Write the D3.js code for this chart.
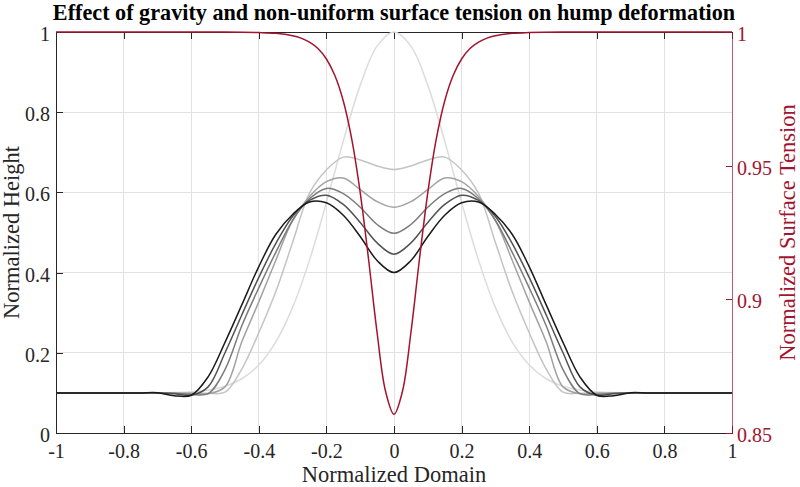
<!DOCTYPE html>
<html>
<head>
<meta charset="utf-8">
<script src="https://cdn.jsdelivr.net/npm/d3@7"></script>
<style>
  body { margin: 0; background: #fff; }
</style>
</head>
<body>
<div id="chart"></div>
<script>
// Sample positions along the normalized domain
let domainX = [-1, -0.95, -0.9, -0.85, -0.8, -0.75, -0.7, -0.65, -0.6, -0.55, -0.5,
  -0.45, -0.4, -0.35, -0.3, -0.25, -0.2, -0.15, -0.1, -0.05, 0,
  0.05, 0.1, 0.15, 0.2, 0.25, 0.3, 0.35, 0.4, 0.45, 0.5,
  0.55, 0.6, 0.65, 0.7, 0.75, 0.8, 0.85, 0.9, 0.95, 1];

// Hump height profiles, from the initial shape (h0) to the last one (h5)
let h0 = [0.1, 0.1, 0.1, 0.1, 0.1, 0.1001, 0.1004, 0.101, 0.1028, 0.1071, 0.1165,
  0.1353, 0.1696, 0.2268, 0.3132, 0.4311, 0.5746, 0.7279, 0.8669, 0.9647, 1,
  0.9647, 0.8669, 0.7279, 0.5746, 0.4311, 0.3132, 0.2268, 0.1696, 0.1353, 0.1165,
  0.1071, 0.1028, 0.101, 0.1004, 0.1001, 0.1, 0.1, 0.1, 0.1, 0.1];
let h1 = [0.1, 0.1, 0.1, 0.1, 0.1, 0.1, 0.1, 0.1, 0.1, 0.099, 0.102,
  0.16, 0.25, 0.352, 0.475, 0.598, 0.656, 0.688, 0.681, 0.666, 0.657,
  0.666, 0.681, 0.688, 0.656, 0.598, 0.475, 0.352, 0.25, 0.16, 0.102,
  0.099, 0.1, 0.1, 0.1, 0.1, 0.1, 0.1, 0.1, 0.1, 0.1];
let h2 = [0.1, 0.1, 0.1, 0.1, 0.1, 0.1, 0.1, 0.1, 0.099, 0.098, 0.115,
  0.228, 0.327, 0.43, 0.53, 0.59, 0.627, 0.636, 0.607, 0.577, 0.563,
  0.577, 0.607, 0.636, 0.627, 0.59, 0.53, 0.43, 0.327, 0.228, 0.115,
  0.098, 0.099, 0.1, 0.1, 0.1, 0.1, 0.1, 0.1, 0.1, 0.1];
let h3 = [0.1, 0.1, 0.1, 0.1, 0.1, 0.1, 0.1, 0.099, 0.096, 0.098, 0.158,
  0.268, 0.362, 0.45, 0.53, 0.584, 0.61, 0.597, 0.563, 0.52, 0.498,
  0.52, 0.563, 0.597, 0.61, 0.584, 0.53, 0.45, 0.362, 0.268, 0.158,
  0.098, 0.096, 0.099, 0.1, 0.1, 0.1, 0.1, 0.1, 0.1, 0.1];
let h4 = [0.1, 0.1, 0.1, 0.1, 0.1, 0.1, 0.1, 0.098, 0.094, 0.115, 0.2,
  0.295, 0.388, 0.472, 0.54, 0.58, 0.593, 0.57, 0.525, 0.474, 0.446,
  0.474, 0.525, 0.57, 0.593, 0.58, 0.54, 0.472, 0.388, 0.295, 0.2,
  0.115, 0.094, 0.098, 0.1, 0.1, 0.1, 0.1, 0.1, 0.1, 0.1];
let h5 = [0.1, 0.1, 0.1, 0.1, 0.1, 0.1, 0.1005, 0.093, 0.094, 0.14, 0.226,
  0.32, 0.415, 0.495, 0.545, 0.576, 0.574, 0.543, 0.49, 0.43, 0.4,
  0.43, 0.49, 0.543, 0.574, 0.576, 0.545, 0.495, 0.415, 0.32, 0.226,
  0.14, 0.094, 0.093, 0.1005, 0.1, 0.1, 0.1, 0.1, 0.1, 0.1];

// Surface tension profile (right axis)
let tensionX = [-1, -0.8, -0.6, -0.5, -0.4, -0.35, -0.3, -0.275, -0.25, -0.225, -0.2,
  -0.175, -0.15, -0.125, -0.1, -0.075, -0.05, -0.025, 0,
  0.025, 0.05, 0.075, 0.1, 0.125, 0.15, 0.175, 0.2, 0.225, 0.25,
  0.275, 0.3, 0.35, 0.4, 0.5, 0.6, 0.8, 1];
let tensionY = [1, 1, 1, 1, 0.9998, 0.9995, 0.9986, 0.9977, 0.9962, 0.9938, 0.9899,
  0.9837, 0.9742, 0.9599, 0.9399, 0.9147, 0.8875, 0.8656, 0.857,
  0.8656, 0.8875, 0.9147, 0.9399, 0.9599, 0.9742, 0.9837, 0.9899, 0.9938, 0.9962,
  0.9977, 0.9986, 0.9995, 0.9998, 1, 1, 1, 1];

// Tick values and labels
let xTicks = [-1, -0.8, -0.6, -0.4, -0.2, 0, 0.2, 0.4, 0.6, 0.8, 1];
let xTickLabels = ["-1", "-0.8", "-0.6", "-0.4", "-0.2", "0", "0.2", "0.4", "0.6", "0.8", "1"];
let yTicks = [0, 0.2, 0.4, 0.6, 0.8, 1];
let yTickLabels = ["0", "0.2", "0.4", "0.6", "0.8", "1"];
let y2Ticks = [0.85, 0.9, 0.95, 1];
let y2TickLabels = ["0.85", "0.9", "0.95", "1"];

// svg attributes
let svgWidth = 800;
let svgHeight = 487;
let margin = {top: 32, right: 68, bottom: 54, left: 56};
let font = "'Liberation Serif', 'Times New Roman', serif";
let axisColor = "#262626";
let red = "#A2142F";
let grays = ["#dcdcdc", "#c4c4c4", "#a2a2a2", "#7c7c7c", "#525252", "#1a1a1a"];

let svg = d3.select("#chart")
  .append("svg")
  .attr("width", svgWidth)
  .attr("height", svgHeight);

let xScale = d3.scaleLinear()
  .domain([-1, 1])
  .range([margin.left, svgWidth - margin.right]);

let yScale = d3.scaleLinear()
  .domain([0, 1])
  .range([svgHeight - margin.bottom, margin.top]);

let y2Scale = d3.scaleLinear()
  .domain([0.85, 1])
  .range([svgHeight - margin.bottom, margin.top]);

// grid lines
let grid = svg.append("g")
  .attr("stroke", "#e2e2e2")
  .attr("stroke-width", 1)
  .attr("shape-rendering", "crispEdges");

grid.selectAll(".gx")
  .data(xTicks.slice(1, -1))
  .enter()
  .append("line")
  .attr("x1", d => xScale(d))
  .attr("x2", d => xScale(d))
  .attr("y1", yScale(0))
  .attr("y2", yScale(1));

grid.selectAll(".gy")
  .data(yTicks.slice(1, -1))
  .enter()
  .append("line")
  .attr("x1", xScale(-1))
  .attr("x2", xScale(1))
  .attr("y1", d => yScale(d))
  .attr("y2", d => yScale(d));

// style helper for the axes
function styleAxis(g, color) {
  g.attr("font-family", font)
    .attr("font-size", 20)
    .attr("shape-rendering", "crispEdges");
  g.selectAll("path, line").attr("stroke", color);
  g.selectAll("text").attr("fill", color);
}

svg.append("g")
  .attr("transform", `translate(0,${yScale(0)})`)
  .call(d3.axisBottom(xScale).tickValues(xTicks).tickFormat((d, i) => xTickLabels[i])
    .tickSizeInner(-7).tickSizeOuter(0).tickPadding(11))
  .call(g => styleAxis(g, axisColor));

svg.append("g")
  .attr("transform", `translate(0,${yScale(1)})`)
  .call(d3.axisTop(xScale).tickValues(xTicks).tickFormat("")
    .tickSizeInner(-7).tickSizeOuter(0))
  .call(g => styleAxis(g, axisColor));

svg.append("g")
  .attr("transform", `translate(${xScale(-1)},0)`)
  .call(d3.axisLeft(yScale).tickValues(yTicks).tickFormat((d, i) => yTickLabels[i])
    .tickSizeInner(-7).tickSizeOuter(0).tickPadding(6))
  .call(g => styleAxis(g, axisColor))
  .selectAll("text").attr("dy", "0.42em");

svg.append("g")
  .attr("transform", `translate(${xScale(1)},0)`)
  .call(d3.axisRight(y2Scale).tickValues(y2Ticks).tickFormat((d, i) => y2TickLabels[i])
    .tickSizeInner(-6).tickSizeOuter(0).tickPadding(5))
  .call(g => styleAxis(g, red))
  .call(g => g.select(".domain").attr("stroke-opacity", 0.7))
  .selectAll("text").attr("dy", "0.42em");

// hump profiles
let profileLine = d3.line()
  .x((d, i) => xScale(domainX[i]))
  .y(d => yScale(d))
  .curve(d3.curveCatmullRom.alpha(0.5));

svg.append("g")
  .selectAll("path")
  .data([h0, h1, h2, h3, h4, h5])
  .enter()
  .append("path")
  .attr("d", profileLine)
  .attr("fill", "none")
  .attr("stroke", (d, i) => grays[i])
  .attr("stroke-width", 1.5);

// surface tension on the right axis
let tensionLine = d3.line()
  .x((d, i) => xScale(tensionX[i]))
  .y(d => y2Scale(d))
  .curve(d3.curveCatmullRom.alpha(0.5));

svg.append("path")
  .datum(tensionY)
  .attr("d", tensionLine)
  .attr("fill", "none")
  .attr("stroke", red)
  .attr("stroke-width", 1.5);

// title and axis labels
svg.append("text")
  .attr("x", (xScale(-1) + xScale(1)) / 2)
  .attr("y", 20)
  .attr("text-anchor", "middle")
  .attr("font-family", font)
  .attr("font-weight", "bold")
  .attr("font-size", 22.2)
  .attr("fill", "#000")
  .text("Effect of gravity and non-uniform surface tension on hump deformation");

svg.append("text")
  .attr("x", (xScale(-1) + xScale(1)) / 2)
  .attr("y", 482)
  .attr("text-anchor", "middle")
  .attr("font-family", font)
  .attr("font-size", 22.5)
  .attr("fill", axisColor)
  .text("Normalized Domain");

svg.append("text")
  .attr("transform", `translate(18.5,${(yScale(0) + yScale(1)) / 2}) rotate(-90)`)
  .attr("text-anchor", "middle")
  .attr("font-family", font)
  .attr("font-size", 22.5)
  .attr("fill", axisColor)
  .text("Normalized Height");

svg.append("text")
  .attr("transform", `translate(795,${(yScale(0) + yScale(1)) / 2}) rotate(-90)`)
  .attr("text-anchor", "middle")
  .attr("font-family", font)
  .attr("font-size", 22.5)
  .attr("fill", red)
  .text("Normalized Surface Tension");
</script>
</body>
</html>
